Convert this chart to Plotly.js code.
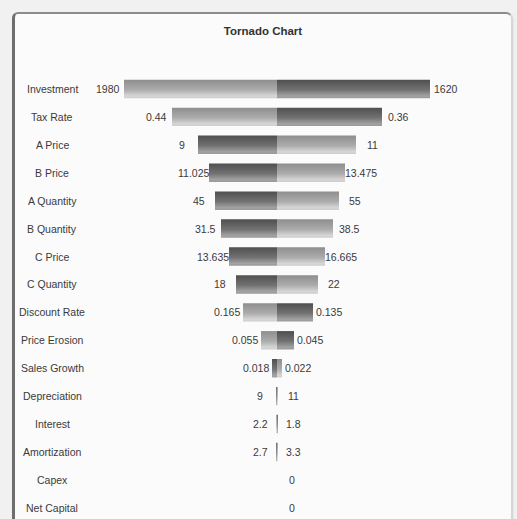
<!DOCTYPE html>
<html>
<head>
<meta charset="utf-8">
<script src="https://cdn.plot.ly/plotly-3.0.1.min.js"></script>
<style>
  html, body { margin: 0; padding: 0; background: #f1f1f1; }
  #wrap { position: relative; width: 517px; height: 519px; overflow: hidden; }
  #panel {
    position: absolute; left: 12px; top: 12px; width: 496px; height: 530px;
    background: #fbfbfb;
    border-top: 2px solid #8c8c8c;
    border-left: 3px solid #6e6e6e;
    border-right: 1px solid #d6d6d6;
    border-radius: 6px 6px 0 0;
    box-shadow: 1px 1px 2px rgba(0,0,0,0.15);
  }
  #chart { position: absolute; left: 0; top: 0; width: 517px; height: 519px; }
</style>
</head>
<body>
<div id="wrap">
  <div id="panel"></div>
  <div id="chart"></div>
</div>
<script>
// Input variables, largest swing first
const categories = ['Investment', 'Tax Rate', 'A Price', 'B Price', 'A Quantity', 'B Quantity',
  'C Price', 'C Quantity', 'Discount Rate', 'Price Erosion', 'Sales Growth', 'Depreciation',
  'Interest', 'Amortization', 'Capex', 'Net Capital'];

// Input value at its low setting and the resulting change in output
const lowInputLabels = ['1620', '0.36', '9', '11.025', '45', '31.5', '13.635', '18',
  '0.135', '0.045', '0.018', '9', '1.8', '2.7', '0', '0'];
const lowInputSwing = [153, 105, -79, -68, -62, -56, -48, -41, 36, 17, -5, -0.8, 0.8, -0.8, 0, 0];

// Input value at its high setting and the resulting change in output
const highInputLabels = ['1980', '0.44', '11', '13.475', '55', '38.5', '16.665', '22',
  '0.165', '0.055', '0.022', '11', '2.2', '3.3', '0', '0'];
const highInputSwing = [-153, -105, 79, 68, 62, 56, 48, 41, -34, -16, 5, 0.8, -0.8, 0.8, 0, 0];

const textFont = { family: 'Liberation Sans, Arial, sans-serif', size: 10.5, color: '#3a3a3a' };

const traces = [
  { type: 'bar', orientation: 'h', name: 'Low input', y: categories, x: lowInputSwing,
    marker: { color: '#6c6c6c', line: { width: 0 } }, hoverinfo: 'skip' },
  { type: 'bar', orientation: 'h', name: 'High input', y: categories, x: highInputSwing,
    marker: { color: '#b0b0b0', line: { width: 0 } }, hoverinfo: 'skip' }
];

// Value labels sit just beyond the end of each bar; rows with no swing get a single label
const annotations = [];
categories.forEach((cat, i) => {
  const pairs = [[lowInputSwing[i], lowInputLabels[i]], [highInputSwing[i], highInputLabels[i]]];
  if (lowInputSwing[i] === 0 && highInputSwing[i] === 0) {
    annotations.push({ xref: 'x', yref: 'y', x: 0, y: cat, text: highInputLabels[i],
      xshift: 15, xanchor: 'center', showarrow: false, font: textFont });
    return;
  }
  pairs.forEach(([v, label]) => {
    annotations.push({ xref: 'x', yref: 'y', x: v, y: cat, text: label,
      xshift: v < 0 ? -16 : 16, xanchor: 'center', showarrow: false, font: textFont });
  });
  // category name, centred in the left column
});
categories.forEach(cat => {
  annotations.push({ xref: 'paper', yref: 'y', x: -0.125, y: cat, text: cat,
    xanchor: 'center', showarrow: false, font: textFont });
});

const layout = {
  width: 517, height: 519,
  margin: { l: 97, r: 60, t: 75, b: 0, pad: 0 },
  paper_bgcolor: 'rgba(0,0,0,0)', plot_bgcolor: 'rgba(0,0,0,0)',
  title: { text: 'Tornado Chart', x: 263 / 517, xanchor: 'center', xref: 'container',
    y: 1 - 30.5 / 519, yanchor: 'middle', yref: 'container',
    font: { family: 'Liberation Sans, Arial, sans-serif', size: 11.5, color: '#333', weight: 'bold' } },
  barmode: 'relative', bargap: 0.34,
  showlegend: false,
  xaxis: { range: [-180, 180], showticklabels: false, showgrid: false, zeroline: false,
    showline: false, ticks: '', fixedrange: true },
  yaxis: { type: 'category', range: [15.4, -0.5], autorange: false, showticklabels: false,
    showgrid: false, zeroline: false, showline: false, ticks: '', fixedrange: true },
  annotations: annotations
};

// Vertical shading for the two bar series, dark at the top and lighter toward the bottom
function applyGradients(gd) {
  const svg = gd.querySelector('svg.main-svg');
  let defs = svg.querySelector('defs');
  const ns = 'http://www.w3.org/2000/svg';
  const shades = {
    gradLow: [['0', '#4f4f4f'], ['0.55', '#727272'], ['0.88', '#a2a2a2'], ['1', '#9a9a9a']],
    gradHigh: [['0', '#8e8e8e'], ['0.55', '#acacac'], ['0.88', '#d6d6d6'], ['1', '#cdcdcd']]
  };
  Object.keys(shades).forEach(id => {
    const g = document.createElementNS(ns, 'linearGradient');
    g.setAttribute('id', id);
    g.setAttribute('x1', '0'); g.setAttribute('y1', '0');
    g.setAttribute('x2', '0'); g.setAttribute('y2', '1');
    shades[id].forEach(([off, col]) => {
      const s = document.createElementNS(ns, 'stop');
      s.setAttribute('offset', off);
      s.setAttribute('stop-color', col);
      g.appendChild(s);
    });
    defs.appendChild(g);
  });
  const groups = gd.querySelectorAll('.barlayer .trace');
  const ids = ['gradLow', 'gradHigh'];
  groups.forEach((grp, k) => {
    grp.querySelectorAll('path').forEach(p => { p.style.fill = 'url(#' + ids[k] + ')'; });
  });
}

Plotly.newPlot('chart', traces, layout, { displayModeBar: false, staticPlot: true })
  .then(applyGradients);
</script>
</body>
</html>
